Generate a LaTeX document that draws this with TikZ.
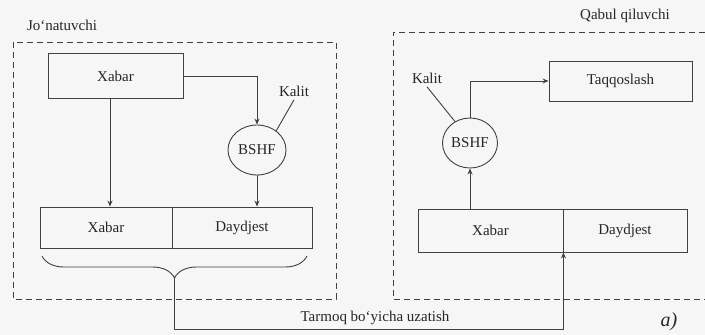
\documentclass[tikz,border=0pt]{standalone}
\usepackage{fontspec}
\setmainfont{Liberation Serif}
\usetikzlibrary{arrows.meta,decorations.pathreplacing,shapes.geometric}
\definecolor{linec}{gray}{0.25}
\definecolor{textc}{gray}{0.15}
\definecolor{bgc}{gray}{0.965}
\begin{document}
\begin{tikzpicture}[x=1pt,y=-1pt,
  every node/.style={font=\fontsize{15}{17}\selectfont, text=textc},
  box/.style={draw=linec, line width=0.9pt, inner sep=0pt},
  oval/.style={draw=linec, line width=0.9pt, ellipse, inner sep=0pt},
  conn/.style={draw=linec, line width=0.9pt},
  arr/.style={conn, -{Stealth[length=6pt,width=5pt]}},
  dashbox/.style={draw=linec, line width=1pt, dash pattern=on 6pt off 4pt}]
\fill[bgc] (0,0) rectangle (705,335);
\useasboundingbox (0,0) rectangle (705,335);

% labels
\node (jon) at (62,25) {Jo`natuvchi};
\node (qab) at (625,16) {Qabul qiluvchi};
\node (net) at (375,318) {Tarmoq bo`yicha uzatish};
\node[font=\fontsize{20}{22}\selectfont\itshape] (lbla) at (669,322) {a)};

% dashed frames
\draw[dashbox] (13,42) rectangle (336,299);
\draw[dashbox] (705,32) -| (393,299) -- (705,299);

% sender
\node[box, minimum width=135pt, minimum height=45pt] (xabar1) at (115.5,76) {Xabar};
\node[oval, minimum width=58pt, minimum height=50pt] (bshf1) at (257,150) {BSHF};
\node (kalit1) at (294,91) {Kalit};
\node[box, minimum width=132pt, minimum height=41pt] (xabar2) at (106,227.5) {Xabar};
\node[box, minimum width=140pt, minimum height=41pt] (dayd1) at (242,227.5) {Daydjest};

\draw[arr] (xabar1.east) -| (bshf1.north);
\draw[conn] (kalit1.south) -- (bshf1.45);
\draw[arr] (bshf1.south) -- (bshf1.south |- dayd1.north);
\draw[arr] ([xshift=-5.5pt]xabar1.south) -- ([xshift=-5.5pt]xabar1.south |- xabar2.north);

\draw[conn, decorate, decoration={brace, amplitude=22pt}] (307,256) -- (42,256);
\coordinate (tip) at (174.5,278);

% receiver
\node[box, minimum width=143pt, minimum height=40pt] (taqq) at (620.5,81) {Taqqoslash};
\node[oval, minimum width=55pt, minimum height=50pt] (bshf2) at (470,143) {BSHF};
\node (kalit2) at (427,78) {Kalit};
\node[box, minimum width=145pt, minimum height=43pt] (xabar3) at (490.5,230.5) {Xabar};
\node[box, minimum width=124pt, minimum height=43pt] (dayd2) at (625,230.5) {Daydjest};

\draw[arr] (bshf2.north) |- (taqq.west);
\draw[conn] (kalit2.south) -- (bshf2.125);
\draw[arr] (bshf2.south |- xabar3.north) -- (bshf2.south);

% network
\draw[arr] (tip) -- (tip |- 0,329) -| (xabar3.south east);
\end{tikzpicture}
\end{document}
